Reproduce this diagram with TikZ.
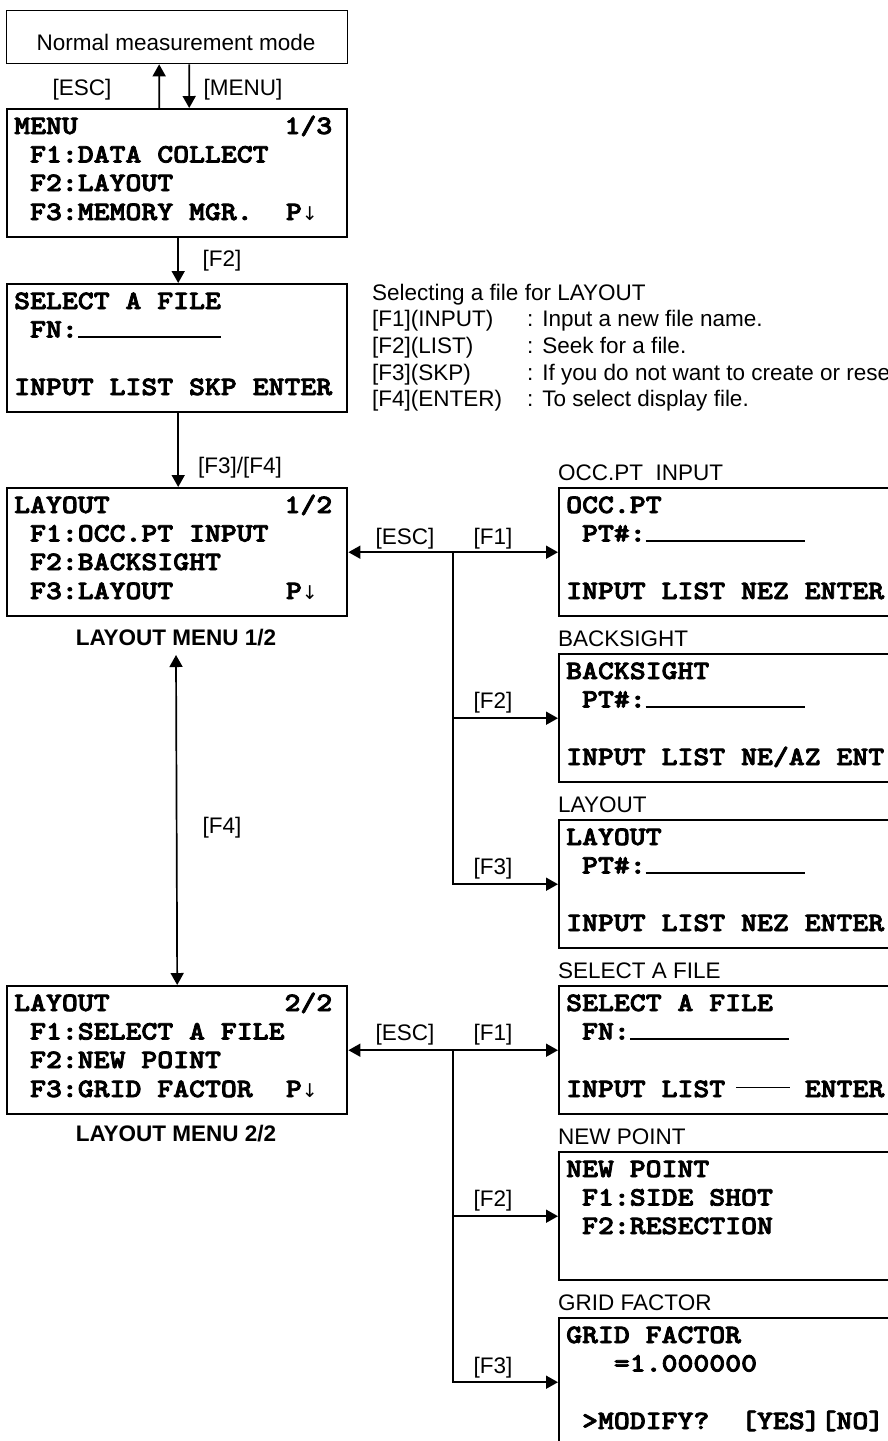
\documentclass[tikz,border=0pt]{standalone}
\usepackage{fontspec}
\setmainfont{Liberation Sans}
\newfontfamily\scrfont[FakeStretch=1.143,FakeBold=3]{lmmonolt10-bold.otf}
\newfontfamily\symfont{DejaVu Sans}
\usetikzlibrary{arrows.meta}
\newcommand{\ulbar}[1]{\rule{#1}{1.6pt}}
\newcommand{\dashbar}{\hspace{0.415em}\rule[0.33em]{2.04em}{1.5pt}\hspace{0.55em}}
\newcommand{\pdown}{P{\symfont\mdseries\fontsize{19pt}{19pt}\selectfont ↓}}
\tikzset{
 screen/.style={draw, line width=2.4pt, minimum width=340pt, minimum height=128pt, anchor=north west, inner sep=0pt},
 rscreen/.style={screen, minimum width=345pt},
 mono/.style={anchor=base west, inner sep=0pt, font=\scrfont\fontsize{26.5pt}{28pt}\selectfont},
 pd/.style={mono, anchor=base east},
 lbl/.style={anchor=base, inner sep=0pt, font=\fontsize{22.5pt}{24pt}\selectfont},
 lblw/.style={lbl, anchor=base west},
 blbl/.style={lbl, font=\bfseries\fontsize{22.5pt}{24pt}\selectfont},
 conn/.style={line width=1.7pt, -{Triangle[length=12pt,width=13pt]}},
 dconn/.style={line width=1.7pt, {Triangle[length=12pt,width=13pt]}-{Triangle[length=12pt,width=13pt]}},
}
\begin{document}
\begin{tikzpicture}[x=1pt,y=-1pt]
\useasboundingbox (0,0) rectangle (888,1441);
\clip (0,0) rectangle (888,1441);
% ---------- top box
\node[draw, line width=1.3pt, minimum width=341pt, minimum height=53pt, anchor=north west, inner sep=0pt] (normal) at (6,10) {};
\node[lbl] (normaltxt) at (176,50) {Normal measurement mode};
% ---------- MENU
\node[screen] (menu) at (6,108) {};
\node[mono] (m1) at (14,134) {MENU~~~~~~~~~~~~~1/3};
\node[mono] (m2) at (14,162.5) {~F1:DATA COLLECT};
\node[mono] (m3) at (14,191) {~F2:LAYOUT};
\node[mono] (m4) at (14,220) {~F3:MEMORY MGR.};
\node[pd] (m4p) at (318,220) {\pdown};
% ---------- SELECT A FILE (left)
\node[screen] (sel) at (6,283) {};
\node[mono] (s1) at (14,309) {SELECT A FILE};
\node[mono] (s2) at (14,337.5) {~FN:\ulbar{5.4em}};
\node[mono] (s4) at (14,395) {INPUT LIST SKP ENTER};
% ---------- explanation
\node[lblw] (e0) at (372,300) {Selecting a file for LAYOUT};
\node[lblw] (e1a) at (372,326) {[F1](INPUT)};
\node[lblw] (e1b) at (527,326) {:\hspace{0.4em}Input a new file name.};
\node[lblw] (e2a) at (372,353) {[F2](LIST)};
\node[lblw] (e2b) at (527,353) {:\hspace{0.4em}Seek for a file.};
\node[lblw] (e3a) at (372,380) {[F3](SKP)};
\node[lblw] (e3b) at (527,380) {:\hspace{0.4em}If you do not want to create or rese};
\node[lblw] (e4a) at (372,406) {[F4](ENTER)};
\node[lblw] (e4b) at (527,406) {:\hspace{0.4em}To select display file.};
% ---------- LAYOUT 1/2
\node[screen] (l12) at (6,487) {};
\node[mono] (a1) at (14,513) {LAYOUT~~~~~~~~~~~1/2};
\node[mono] (a2) at (14,541.5) {~F1:OCC.PT INPUT};
\node[mono] (a3) at (14,570) {~F2:BACKSIGHT};
\node[mono] (a4) at (14,599) {~F3:LAYOUT};
\node[pd] (a4p) at (318,599) {\pdown};
\node[blbl] (menu12) at (176,645) {LAYOUT MENU 1/2};
% ---------- LAYOUT 2/2
\node[screen] (l22) at (6,985) {};
\node[mono] (b1) at (14,1011) {LAYOUT~~~~~~~~~~~2/2};
\node[mono] (b2) at (14,1039.5) {~F1:SELECT A FILE};
\node[mono] (b3) at (14,1068) {~F2:NEW POINT};
\node[mono] (b4) at (14,1097) {~F3:GRID FACTOR};
\node[pd] (b4p) at (318,1097) {\pdown};
\node[blbl] (menu22) at (176,1141) {LAYOUT MENU 2/2};
% ---------- right column
\node[lblw] (occl) at (558,480) {OCC.PT\ \ INPUT};
\node[rscreen] (occ) at (558,487) {};
\node[mono] (o1) at (566,513) {OCC.PT};
\node[mono] (o2) at (566,541.5) {~PT\#:\ulbar{6em}};
\node[mono] (o4) at (566,599) {INPUT LIST NEZ ENTER};

\node[lblw] (bsl) at (558,646) {BACKSIGHT};
\node[rscreen] (bs) at (558,653) {};
\node[mono] (c1) at (566,679) {BACKSIGHT};
\node[mono] (c2) at (566,707.5) {~PT\#:\ulbar{6em}};
\node[mono] (c4) at (566,765) {INPUT LIST NE/AZ ENT};

\node[lblw] (layl) at (558,812) {LAYOUT};
\node[rscreen] (lay) at (558,819) {};
\node[mono] (d1) at (566,845) {LAYOUT};
\node[mono] (d2) at (566,873.5) {~PT\#:\ulbar{6em}};
\node[mono] (d4) at (566,931) {INPUT LIST NEZ ENTER};

\node[lblw] (sel2l) at (558,978) {SELECT A FILE};
\node[rscreen] (sel2) at (558,985) {};
\node[mono] (f1) at (566,1011) {SELECT A FILE};
\node[mono] (f2) at (566,1039.5) {~FN:\ulbar{6em}};
\node[mono] (f4) at (566,1097) {INPUT LIST\dashbar ENTER};

\node[lblw] (npl) at (558,1144) {NEW POINT};
\node[rscreen] (np) at (558,1151) {};
\node[mono] (g1) at (566,1177) {NEW POINT};
\node[mono] (g2) at (566,1205.5) {~F1:SIDE SHOT};
\node[mono] (g3) at (566,1234) {~F2:RESECTION};

\node[lblw] (gfl) at (558,1310) {GRID FACTOR};
\node[rscreen] (gf) at (558,1317) {};
\node[mono] (h1) at (566,1343) {GRID FACTOR};
\node[mono] (h2) at (566,1371.5) {~~~=1.000000};
\node[mono] (h4) at (566,1429) {~>MODIFY?~~[YES][NO]};
% ---------- connectors
\draw[conn] ([xshift=-18pt]menu.north) -- ([xshift=-18pt]normal.south);
\draw[conn] ([xshift=12pt]normal.south) -- ([xshift=12pt]menu.north);
\node[lbl] (kesc0) at (82,95) {[ESC]};
\node[lbl] (kmenu) at (243,95) {[MENU]};
\draw[conn] ([xshift=1pt]menu.south) -- ([xshift=1pt]sel.north);
\node[lbl] (kf2a) at (222,266) {[F2]};
\draw[conn] ([xshift=1pt]sel.south) -- ([xshift=1pt]l12.north);
\node[lbl] (kf34) at (240,473) {[F3]/[F4]};
\coordinate (f4top) at (176,655);
\draw[dconn] (f4top) -- (l22.north);
\node[lbl] (kf4) at (222,833) {[F4]};
% group 1
\coordinate (j1) at (453,551);
\draw[dconn] (l12.east) -- (occ.west);
\draw[conn] (j1) |- (bs.west);
\draw[conn] (j1) |- (lay.west);
\node[lbl] (kesc1) at (405,544) {[ESC]};
\node[lbl] (kf1a) at (493,544) {[F1]};
\node[lbl] (kf2b) at (493,708) {[F2]};
\node[lbl] (kf3b) at (493,874) {[F3]};
% group 2
\coordinate (j2) at (453,1049);
\draw[dconn] (l22.east) -- (sel2.west);
\draw[conn] (j2) |- (np.west);
\draw[conn] (j2) |- (gf.west);
\node[lbl] (kesc2) at (405,1040) {[ESC]};
\node[lbl] (kf1c) at (493,1040) {[F1]};
\node[lbl] (kf2c) at (493,1206) {[F2]};
\node[lbl] (kf3c) at (493,1373) {[F3]};
\end{tikzpicture}
\end{document}
